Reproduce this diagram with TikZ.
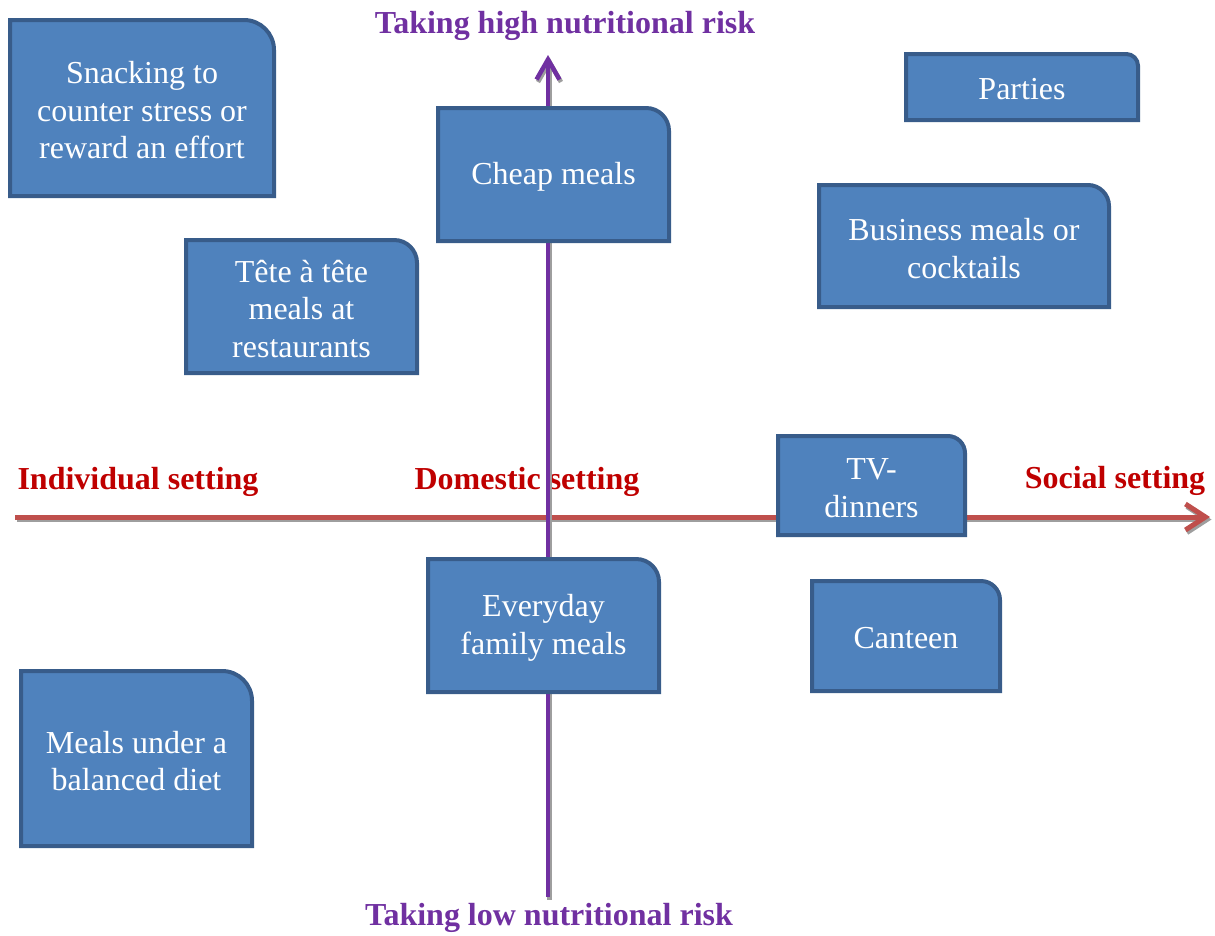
\documentclass[tikz,border=0pt]{standalone}
\usepackage{fontspec}
\setmainfont{Liberation Serif}
\usetikzlibrary{arrows.meta}
\definecolor{ufyrbd}{rgb}{0.31,0.51,0.74}
\definecolor{tyvdya}{rgb}{0.22,0.36,0.54}
\definecolor{xqtqaq}{rgb}{0.44,0.19,0.63}
\definecolor{cqqqqq}{rgb}{0.75,0,0}
\definecolor{cqvqud}{rgb}{0.75,0.31,0.3}
\definecolor{zzzzzz}{rgb}{0.62,0.62,0.62}
% box with one round corner (top right), then its text
\newcommand{\mealbox}[6]{%
  \pgfmathsetmacro{\rr}{min(#4-#2,#5-#3)/6}
  \draw[boxedge] (#2+2,-#5+2) -- (#2+2,-#3-2) -- (#4-2-\rr,-#3-2) arc[start angle=90,end angle=0,radius=\rr] -- (#4-2,-#5+2) -- cycle;
  \node[mealtext] (#1) at ({(#2+#4)/2},{-(#3+#5)/2}) {#6};
}

\begin{document}
\begin{tikzpicture}[line join=round,x=1pt,y=1pt,
    boxedge/.style={color=tyvdya,fill=ufyrbd,line width=4pt,line join=miter},
    mealtext/.style={text=white,align=center,inner sep=0pt,yshift=-2.5pt,font=\fontsize{32}{37.5}\selectfont},
    risklabel/.style={text=xqtqaq,anchor=base,inner sep=0pt,font=\bfseries\fontsize{32}{38}\selectfont},
    settinglabel/.style={text=cqqqqq,anchor=base,inner sep=0pt,font=\bfseries\fontsize{32}{38}\selectfont},
    settingaxis/.style={color=cqvqud,line width=5pt,-{Straight Barb[length=20pt,width=26pt]}},
    riskaxis/.style={color=xqtqaq,line width=4.5pt,-{Straight Barb[length=20pt,width=23pt]}}]
      \useasboundingbox (0,0) rectangle (1215,-935);
      % axis labels
      \node[risklabel] (high) at (565,-33) {Taking high nutritional risk};
      \node[risklabel] (low) at (549,-925) {Taking low nutritional risk};
      \node[settinglabel] (indiv) at (138,-489) {Individual setting};
      \node[settinglabel] (domestic) at (527,-489) {Domestic setting};
      \node[settinglabel] (social) at (1115,-488) {Social setting};
      % axes, grey shadow first
      \coordinate (west) at (15,-517);
      \coordinate (east) at (1210,-517);
      \coordinate (south) at (548,-897);
      \coordinate (north) at (548,-55);
      \draw[settingaxis,color=zzzzzz] ([shift={(1.5,-2.5)}]west) -- ([shift={(1.5,-2.5)}]east);
      \draw[settingaxis] (west) -- (east);
      \draw[riskaxis,color=zzzzzz] ([shift={(1.5,-2.5)}]south) -- ([shift={(1.5,-2.5)}]north);
      \draw[riskaxis] (south) -- (north);
      % boxes
      \mealbox{snack}{8}{18}{276}{198}{Snacking to\\counter stress or\\reward an effort}
      \mealbox{tete}{184}{238}{419}{375}{Tête à tête\\meals at\\restaurants}
      \mealbox{cheap}{436}{106}{671}{243}{Cheap meals}
      \mealbox{parties}{904}{52}{1140}{122}{Parties}
      \mealbox{business}{817}{183}{1111}{309}{Business meals or\\cocktails}
      \mealbox{tv}{776}{434}{967}{537}{TV-\\dinners}
      \mealbox{everyday}{426}{557}{661}{694}{Everyday\\family meals}
      \mealbox{canteen}{810}{579}{1002}{693}{Canteen}
      \mealbox{balanced}{19}{669}{254}{848}{Meals under a\\balanced diet}
\end{tikzpicture}
\end{document}
